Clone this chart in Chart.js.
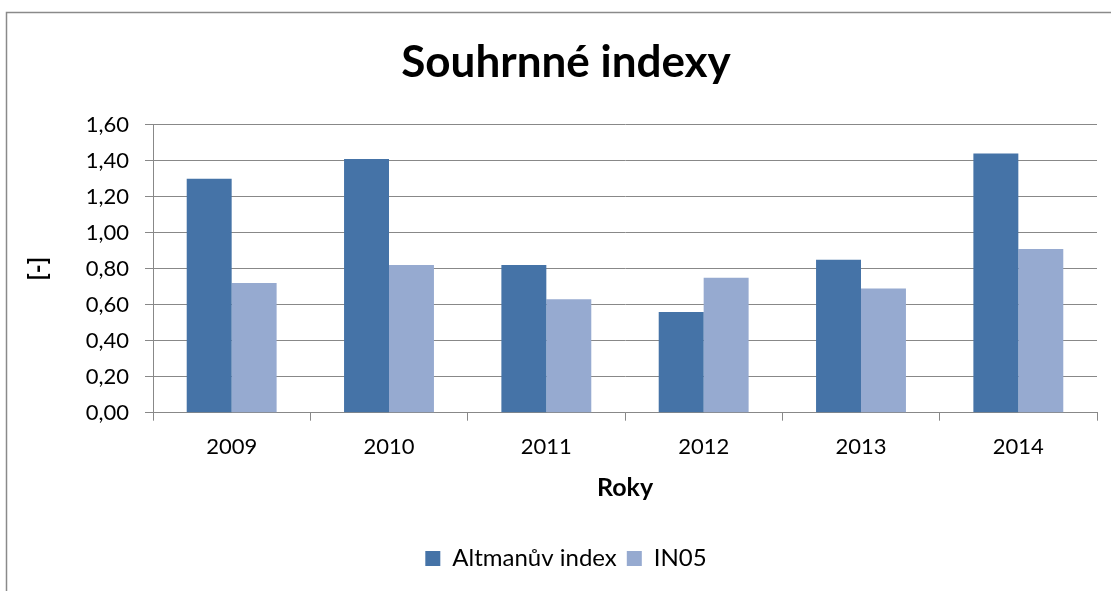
<!DOCTYPE html>
<html>
<head>
<meta charset="utf-8">
<script src="https://cdn.jsdelivr.net/npm/chart.js@4"></script>
<style>
    html, body { margin: 0; padding: 0; background: #ffffff; }
    #wrap { width: 1111px; height: 591px; position: relative; }
</style>
</head>
<body>
<div id="wrap"><canvas id="indexChart" width="1111" height="591"></canvas></div>
<script>
// Data
const years = ['2009', '2010', '2011', '2012', '2013', '2014'];
const altmanValues = [1.30, 1.41, 0.82, 0.56, 0.85, 1.44];
const in05Values = [0.72, 0.82, 0.63, 0.75, 0.69, 0.91];
const seriesNames = ['Altmanův index', 'IN05'];

const fontFamily = "Lato, 'Open Sans', sans-serif";
const gridColor = '#888888';

// Outer frame of the Excel chart (left and top edges only are visible)
const framePlugin = {
    id: 'frame',
    beforeDraw(chart) {
        const c = chart.ctx;
        c.save();
        c.fillStyle = '#ffffff';
        c.fillRect(0, 0, chart.width, chart.height);
        c.strokeStyle = '#8a8a8a';
        c.lineWidth = 1.5;
        c.strokeRect(6.5, 12.5, chart.width + 20, chart.height + 20);
        c.restore();
    }
};

const ctx = document.getElementById('indexChart');

new Chart(ctx, {
    type: 'bar',
    data: {
        labels: years,
        datasets: [{
            label: seriesNames[0],
            data: altmanValues,
            backgroundColor: '#4573a7',
            borderWidth: 0
        }, {
            label: seriesNames[1],
            data: in05Values,
            backgroundColor: '#96aad0',
            borderWidth: 0
        }]
    },
    options: {
        responsive: false,
        animation: false,
        devicePixelRatio: 1,
        layout: {
            padding: { left: 35, right: 14, top: 16, bottom: 10.5 }
        },
        datasets: {
            bar: {
                categoryPercentage: 2 / 3.5,
                barPercentage: 1.0
            }
        },
        plugins: {
            title: {
                display: true,
                text: 'Souhrnné indexy',
                color: '#000000',
                font: { family: fontFamily, size: 44, weight: 'bold' },
                padding: { top: 20.6, bottom: 35.3 }
            },
            legend: {
                position: 'bottom',
                labels: {
                    color: '#000000',
                    font: { family: fontFamily, size: 24 },
                    boxWidth: 15,
                    boxHeight: 15,
                    padding: 10
                }
            },
            tooltip: { enabled: false }
        },
        scales: {
            x: {
                grid: {
                    display: true,
                    drawOnChartArea: false,
                    drawTicks: true,
                    tickLength: 8,
                    color: gridColor,
                    offset: true
                },
                border: { display: true, color: gridColor, width: 1 },
                ticks: {
                    color: '#000000',
                    font: { family: fontFamily, size: 22 },
                    padding: 13
                },
                title: {
                    display: true,
                    text: 'Roky',
                    color: '#000000',
                    font: { family: fontFamily, size: 25, weight: 'bold' },
                    padding: { top: 8, bottom: 34 }
                },
                afterFit(scale) {
                    scale.height = 123.8;
                }
            },
            y: {
                min: 0,
                max: 1.6,
                ticks: {
                    stepSize: 0.2,
                    color: '#000000',
                    font: { family: fontFamily, size: 22 },
                    padding: 16,
                    callback: value => value.toFixed(2).replace('.', ',')
                },
                grid: {
                    color: gridColor,
                    lineWidth: 1,
                    drawTicks: true,
                    tickLength: 8
                },
                border: { display: true, color: gridColor, width: 1 },
                title: {
                    display: true,
                    text: '[-]',
                    color: '#000000',
                    font: { family: fontFamily, size: 24, weight: 'bold', lineHeight: 0.25 },
                    padding: { top: 0, bottom: 0 }
                },
                afterFit(scale) {
                    scale.width = 118;
                }
            }
        }
    },
    plugins: [framePlugin]
});
</script>
</body>
</html>
